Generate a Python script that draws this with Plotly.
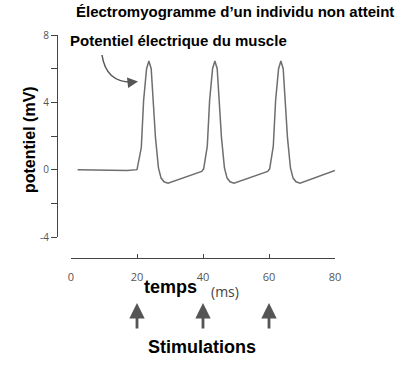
import plotly.graph_objects as go

# ---- data ----
time_ms = [2, 10, 17, 20, 21.3, 22.0, 22.9, 23.6, 24.3, 25.0, 25.6, 26.5, 27.3, 28.2, 29.4,
           39.6, 40.2, 41.3, 42.0, 42.9, 43.6, 44.3, 45.0, 45.6, 46.5, 47.3, 48.2, 49.4,
           59.6, 60.2, 61.3, 62.0, 62.9, 63.6, 64.3, 65.0, 65.6, 66.5, 67.3, 68.2, 69.4, 80]
potential_mV = [0, -0.05, -0.05, 0, 1.3, 4.1, 6.0, 6.45, 6.0, 3.8, 1.9, 0.1, -0.5, -0.72, -0.8,
                -0.1, 0.05, 1.4, 4.1, 6.0, 6.45, 6.0, 3.8, 1.9, 0.1, -0.5, -0.72, -0.8,
                -0.1, 0.05, 1.4, 4.1, 6.0, 6.45, 6.0, 3.8, 1.9, 0.1, -0.5, -0.72, -0.8, -0.05]
stimulations_ms = [20, 40, 60]
x_ticks = [0, 20, 40, 60, 80]
y_ticks = [8, 6, 4, 2, 0, -2, -4]
y_tick_text = ["8", "", "4", "", "0", "", "-4"]

title_text = "Électromyogramme d’un individu non atteint"
label_text = "Potentiel électrique du muscle"
y_title = "potentiel (mV)"

# ---- layout geometry (pixels) ----
PL, PR, PT, PB = 50, 340, 35, 258
def px(x):
    return (x - PL) / (PR - PL)
def py(y):
    return (PB - y) / (PB - PT)

BOLD = "Liberation Sans, Arial, sans-serif"
REG = "Open Sans, sans-serif"

fig = go.Figure()
fig.add_trace(go.Scatter(x=time_ms, y=potential_mV, mode="lines",
                         line=dict(color="#6e6e6e", width=1.5), hoverinfo="skip",
                         showlegend=False))

fig.update_layout(
    width=404, height=368,
    margin=dict(l=PL, r=404 - PR, t=PT, b=368 - PB, autoexpand=False),
    paper_bgcolor="white", plot_bgcolor="white",
    showlegend=False,
    xaxis=dict(domain=[px(71), px(335)], range=[0, 80], anchor="free", position=0,
               tickvals=x_ticks, ticks="inside", ticklen=4, tickcolor="#444",
               showline=True, linecolor="#444", linewidth=1.2, automargin=False,
               showgrid=False, zeroline=False, ticklabelstandoff=9,
               tickfont=dict(family=REG, size=11, color="#555")),
    yaxis=dict(domain=[py(237), 1], range=[-4, 8], anchor="free", position=px(57),
               tickvals=y_ticks, ticktext=y_tick_text, ticks="outside", ticklen=6,
               tickcolor="#444", showline=True, linecolor="#444", linewidth=1.2,
               showgrid=False, zeroline=False, automargin=False,
               tickfont=dict(family=REG, size=10, color="#555")),
)

def text_ann(text, x, y, size, family=BOLD, color="black", angle=0):
    return dict(text=text, x=px(x), y=py(y), xref="paper", yref="paper",
                xanchor="center", yanchor="middle", textangle=angle,
                showarrow=False, font=dict(family=family, size=size, color=color))

ann = [
    text_ann("<b>" + title_text + "</b>", 235, 12, 15),
    text_ann("<b>" + label_text + "</b>", 178, 41, 15),
    text_ann("<b>" + y_title + "</b>", 29, 140, 16, angle=-90),
    text_ann("<b>temps</b>", 170, 287, 18),
    text_ann("(ms)", 225, 291, 14, family=REG, color="#444"),
    text_ann("<b>Stimulations</b>", 202, 347, 18),
]
for s in stimulations_ms:
    ann.append(dict(text="", x=s, y=py(303), xref="x", yref="paper", ax=0, ay=27,
                    showarrow=True, arrowhead=2, arrowsize=1.1, arrowwidth=2.8,
                    arrowcolor="#555"))
# arrowhead of the curved pointer
ann.append(dict(text="", x=px(138), y=py(81.5), xref="paper", yref="paper", ax=-9, ay=1,
                showarrow=True, arrowhead=2, arrowsize=1.4, arrowwidth=1.5,
                arrowcolor="#555"))
fig.update_layout(annotations=ann)

# curved pointer body
path = "M {:.4f},{:.4f} Q {:.4f},{:.4f} {:.4f},{:.4f}".format(
    px(102), py(55), px(106), py(82), px(131), py(82))
fig.add_shape(type="path", path=path, xref="paper", yref="paper",
              line=dict(color="#555", width=1.5))

fig.write_html("out.html", config={"displayModeBar": False},
               post_script="document.body.style.margin='0px';document.body.style.overflow='hidden';")
